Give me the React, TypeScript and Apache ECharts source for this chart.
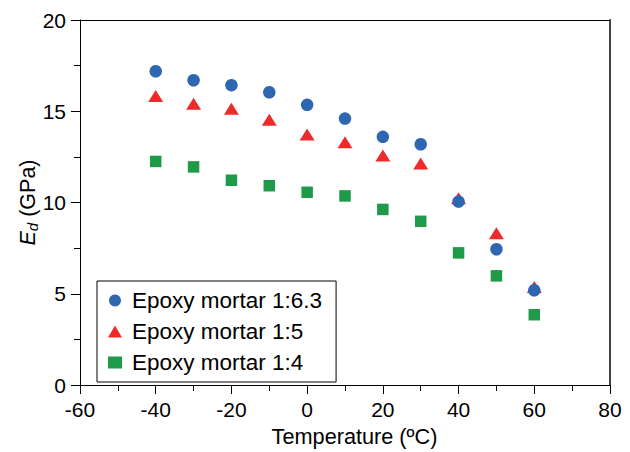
import React, { useEffect, useRef } from "react";
import * as echarts from "echarts";

const temperatures = [-40, -30, -20, -10, 0, 10, 20, 30, 40, 50, 60];
const mortar63 = [17.19, 16.7, 16.43, 16.04, 15.35, 14.6, 13.6, 13.19, 10.05, 7.44, 5.19];
const mortar5 = [15.84, 15.41, 15.14, 14.54, 13.73, 13.3, 12.58, 12.14, 10.23, 8.32, 5.37];
const mortar4 = [12.25, 11.95, 11.22, 10.92, 10.56, 10.36, 9.62, 8.97, 7.24, 5.98, 3.85];
const seriesNames = ["Epoxy mortar 1:6.3", "Epoxy mortar 1:5", "Epoxy mortar 1:4"];

const FONT = "'Liberation Sans', Arial, sans-serif";

export default function App() {
  const ref = useRef<HTMLDivElement>(null);
  useEffect(() => {
    if (!ref.current) return;
    const chart = echarts.init(ref.current, null, { renderer: "svg" });
    const pair = (vals: number[]) => temperatures.map((t, i) => [t, vals[i]]);
    const axisLine = { show: true, onZero: false, lineStyle: { color: "#000", width: 1 } };
    chart.setOption({
      animation: false,
      backgroundColor: "#fff",
      grid: { left: 80, right: 20, top: 20, bottom: 62, containLabel: false },
      legend: {
        orient: "vertical",
        left: 97,
        top: 281,
        padding: [8, 14, 8, 11],
        itemGap: 8,
        itemWidth: 14,
        itemHeight: 12,
        borderColor: "#000",
        borderWidth: 1,
        backgroundColor: "#fff",
        textStyle: { fontSize: 22.5, color: "#000", fontFamily: FONT, lineHeight: 21, padding: [0, 0, 0, 5] },
        data: seriesNames,
      },
      xAxis: [
        {
          type: "value",
          min: -60,
          max: 80,
          interval: 20,
          axisLine,
          axisTick: { show: true, inside: false, length: 9, lineStyle: { color: "#000" } },
          minorTick: { show: true, splitNumber: 2, length: 6, lineStyle: { color: "#000" } },
          splitLine: { show: false },
          axisLabel: { fontSize: 21, color: "#000", fontFamily: FONT, margin: 14 },
          name: "Temperature (ºC)",
          nameLocation: "middle",
          nameGap: 40,
          nameMoveOverlap: false,
          nameTextStyle: { fontSize: 21.7, color: "#000", fontFamily: FONT, padding: [0, 0, 0, 19] },
        },
        {
          type: "value",
          position: "top",
          min: -60,
          max: 80,
          axisLine,
          axisTick: { show: false },
          axisLabel: { show: false },
          splitLine: { show: false },
        },
      ],
      yAxis: [
        {
          type: "value",
          min: 0,
          max: 20,
          interval: 5,
          axisLine,
          axisTick: { show: true, inside: false, length: 9, lineStyle: { color: "#000" } },
          minorTick: { show: true, splitNumber: 2, length: 6, lineStyle: { color: "#000" } },
          splitLine: { show: false },
          axisLabel: { fontSize: 21, color: "#000", fontFamily: FONT, margin: 14 },
          name: "{e|E}{d|d}{n| (GPa)}",
          nameLocation: "middle",
          nameGap: 40,
          nameMoveOverlap: false,
          nameTextStyle: {
            fontSize: 21,
            color: "#000",
            fontFamily: FONT,
            rich: {
              e: { fontSize: 21.5, fontStyle: "italic", fontFamily: FONT, color: "#000" },
              d: { fontSize: 15, fontStyle: "italic", fontFamily: FONT, color: "#000", padding: [10, 0, 0, 0] },
              n: { fontSize: 21.5, fontFamily: FONT, color: "#000" },
            },
          },
        },
        {
          type: "value",
          position: "right",
          min: 0,
          max: 20,
          axisLine: { show: true, onZero: false, lineStyle: { color: "#444", width: 2 } },
          axisTick: { show: false },
          axisLabel: { show: false },
          splitLine: { show: false },
        },
      ],
      series: [
        {
          name: seriesNames[0],
          type: "scatter",
          symbol: "circle",
          symbolSize: 12.5,
          itemStyle: { color: "#2E66B2", opacity: 1 },
          data: pair(mortar63),
          z: 3,
        },
        {
          name: seriesNames[1],
          type: "scatter",
          symbol: "triangle",
          symbolSize: [15, 12],
          itemStyle: { color: "#EE2B2B", opacity: 1 },
          data: pair(mortar5),
          z: 2,
        },
        {
          name: seriesNames[2],
          type: "scatter",
          symbol: "rect",
          symbolSize: 11.5,
          itemStyle: { color: "#1F9A48", opacity: 1 },
          data: pair(mortar4),
          z: 1,
        },
      ],
    });
    return () => chart.dispose();
  }, []);
  return <div ref={ref} style={{ width: 630, height: 452, position: "absolute", left: 0, top: 0 }} />;
}
